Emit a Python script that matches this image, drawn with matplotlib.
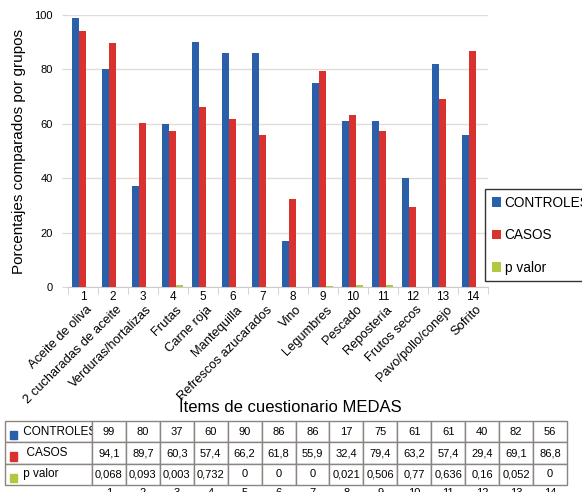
import matplotlib
matplotlib.use('Agg')
import matplotlib.pyplot as plt
from matplotlib.patches import Rectangle
import numpy as np

plt.rcParams['font.family'] = ['Liberation Sans', 'DejaVu Sans']

items = ['Aceite de oliva', '2 cucharadas de aceite', 'Verduras/hortalizas',
         'Frutas', 'Carne roja', 'Mantequilla', 'Refrescos azucarados',
         'Vino', 'Legumbres', 'Pescado', 'Repostería', 'Frutos secos',
         'Pavo/pollo/conejo', 'Sofrito']
controles = [99, 80, 37, 60, 90, 86, 86, 17, 75, 61, 61, 40, 82, 56]
casos = [94.1, 89.7, 60.3, 57.4, 66.2, 61.8, 55.9, 32.4, 79.4, 63.2, 57.4,
         29.4, 69.1, 86.8]
p_valor = [0.068, 0.093, 0.003, 0.732, 0, 0, 0, 0.021, 0.506, 0.77, 0.636,
           0.16, 0.052, 0]
p_text = ['0,068', '0,093', '0,003', '0,732', '0', '0', '0', '0,021',
          '0,506', '0,77', '0,636', '0,16', '0,052', '0']
series_names = ['CONTROLES', 'CASOS', 'p valor']
colors = ['#2a5fa9', '#d8312e', '#b3c83e']


def fmt(v):
    return str(v).replace('.', ',')


W, H = 582, 492
fig = plt.figure(figsize=(W / 100, H / 100), dpi=100)
ax = fig.add_axes([68 / W, 1 - 287 / H, 420 / W, 272 / H])

x = np.arange(1, len(items) + 1)
bw = 0.23
ax.bar(x - 0.25, controles, bw, color=colors[0], label=series_names[0], zorder=3)
ax.bar(x - 0.02, casos, bw, color=colors[1], label=series_names[1], zorder=3)
ax.bar(x + 0.21, p_valor, bw, color=colors[2], label=series_names[2], zorder=3)

ax.set_xlim(0.5, len(items) + 0.5)
ax.set_ylim(0, 100)
ax.set_yticks(range(0, 101, 20))
ax.yaxis.grid(True, color='#e2ded6', lw=1, zorder=0)
ax.tick_params(axis='y', length=4, color='#d8d8d8', labelsize=8, pad=7)
ax.set_xticks(x)
ax.set_xticklabels([str(i) for i in x], fontsize=8.5)
ax.set_xticks(np.arange(0.5, len(items) + 1, 1), minor=True)
ax.tick_params(axis='x', which='major', length=0, pad=3)
ax.tick_params(axis='x', which='minor', length=5, color='#cccccc')
for s in ['top', 'right', 'left']:
    ax.spines[s].set_visible(False)
ax.spines['bottom'].set_color('#cccccc')

for xi, name in zip(x, items):
    ax.annotate(name, xy=(xi, 0), xycoords=('data', 'axes fraction'),
                xytext=(2, -12), textcoords='offset points',
                rotation=45, rotation_mode='anchor', ha='right', va='top',
                fontsize=9.3)

ax.set_ylabel('Porcentajes comparados por grupos', fontsize=11, labelpad=6)
fig.text(290 / W, 1 - 407 / H, 'Ítems de cuestionario MEDAS', fontsize=12,
         ha='center', va='center')

leg = ax.legend(loc='upper left', bbox_to_anchor=(485 / W, 1 - 189 / H),
                bbox_transform=fig.transFigure, fontsize=9.8, frameon=True,
                fancybox=False, edgecolor='black', handlelength=0.7,
                handleheight=0.7, handletextpad=0.25, labelspacing=1.35,
                borderpad=0.5, borderaxespad=0)
leg.get_frame().set_linewidth(1)

# table
tax = fig.add_axes([5 / W, 1 - 485 / H, 562 / W, 64 / H])
tax.axis('off')
rows = [['     ' + series_names[0]] + [fmt(v) for v in controles],
        ['      ' + series_names[1]] + [fmt(v) for v in casos],
        ['     ' + series_names[2]] + p_text]
label_w = 87
col_w = (562 - label_w) / len(items)
widths = [label_w / 562] + [col_w / 562] * len(items)
tbl = tax.table(cellText=rows, colWidths=widths, bbox=[0, 0, 1, 1],
                cellLoc='center')
tbl.auto_set_font_size(False)
tbl.set_fontsize(8)
for (r, c), cell in tbl.get_celld().items():
    cell.set_edgecolor('#8a8580')
    cell.set_linewidth(1)
    if c == 0:
        cell.set_text_props(ha='left', fontsize=8.5)
        cell.PAD = 0.02
for r, col in enumerate(colors):
    yc = 1 - (r + 0.5) / 3
    tax.add_patch(Rectangle((5 / 562, yc - 0.12), 7 / 562, 0.13,
                            transform=tax.transAxes, color=col,
                            clip_on=False))
for i in range(len(items)):
    xc = (label_w + (i + 0.5) * col_w) / 562
    tax.text(xc, -0.05, str(i + 1), transform=tax.transAxes, ha='center',
             va='top', fontsize=8)

fig.savefig('out.png', dpi=100)
